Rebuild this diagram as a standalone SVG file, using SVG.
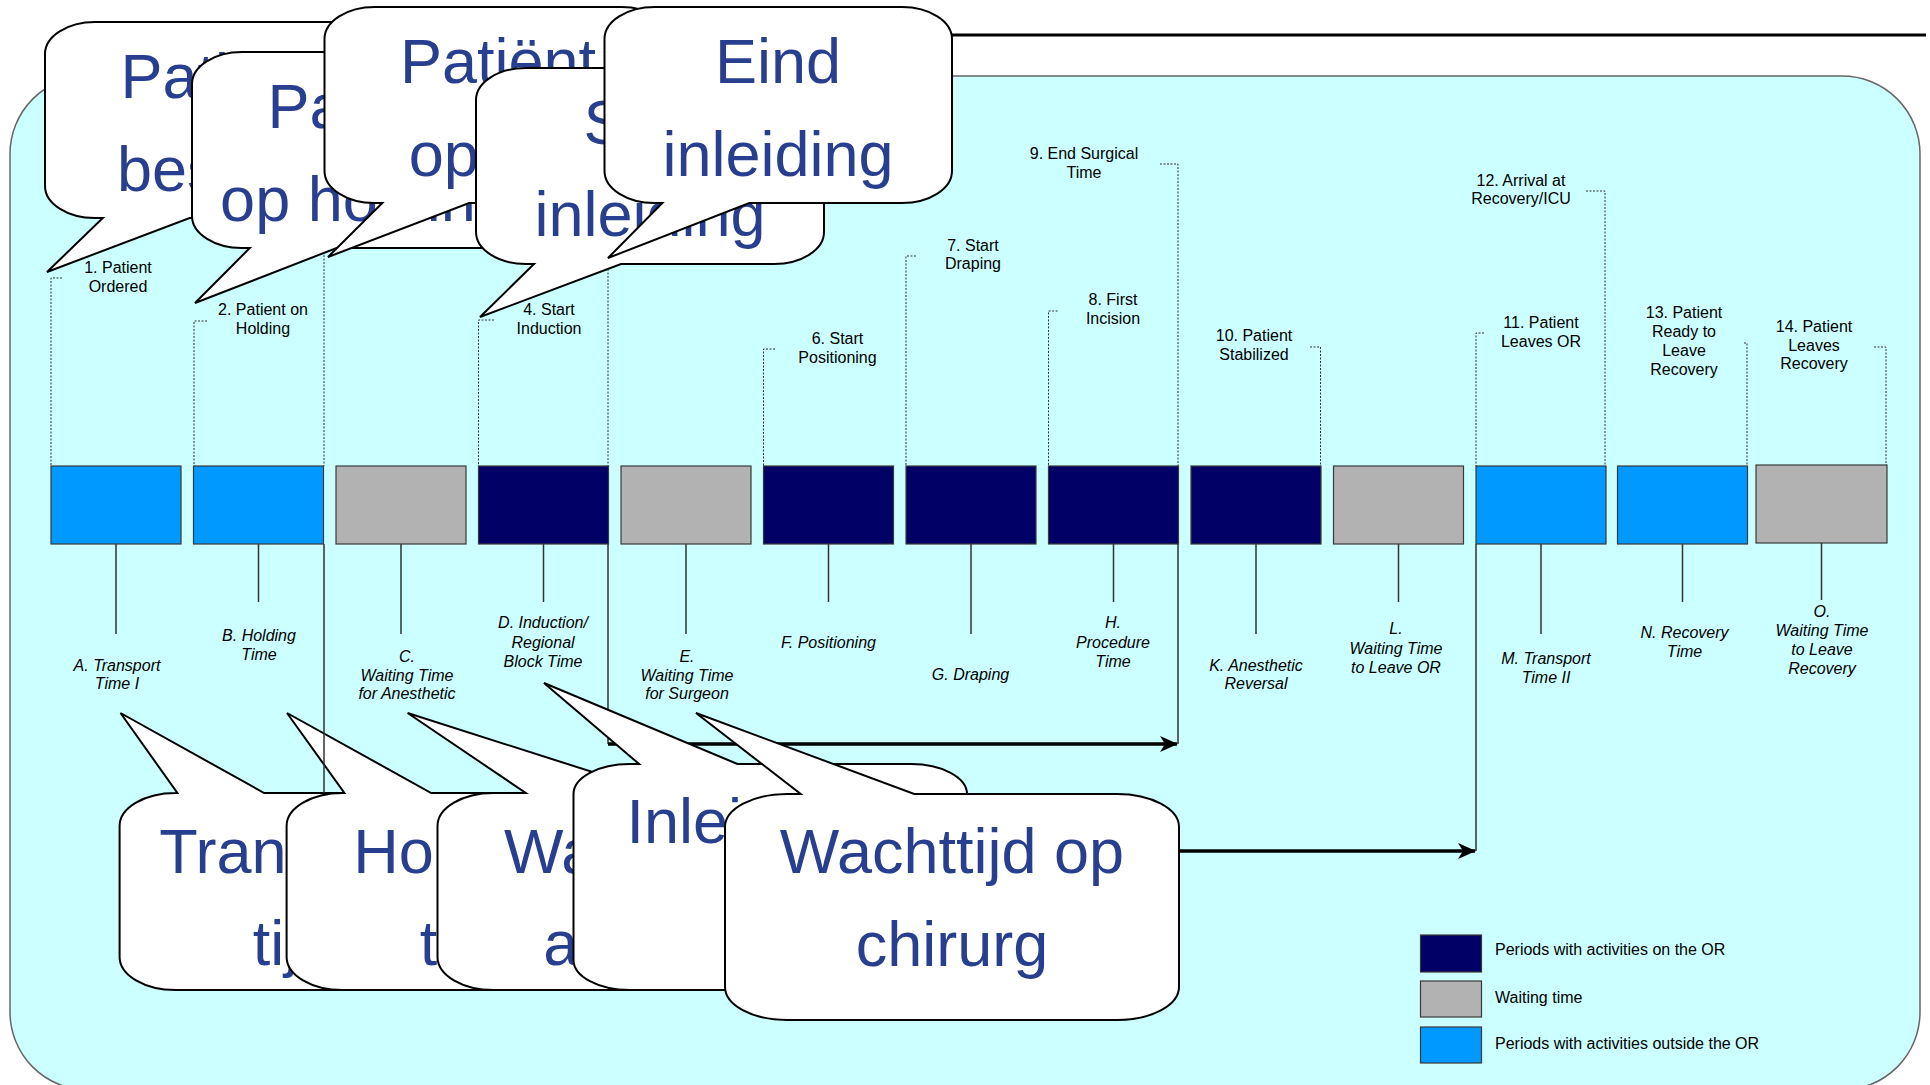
<svg xmlns="http://www.w3.org/2000/svg" width="1930" height="1085" viewBox="0 0 1930 1085">
<defs>
<style>
.lbl{font-family:"Liberation Sans",Arial,sans-serif;font-size:16px;fill:#000;text-anchor:middle}
.it{font-style:italic}
.leg{font-family:"Liberation Sans",Arial,sans-serif;font-size:16px;fill:#000}
.big{font-family:"Liberation Sans",Arial,sans-serif;font-size:63px;fill:#283E8E;text-anchor:middle}
.bub{fill:#fff;stroke:#000;stroke-width:2;stroke-linejoin:miter}
.dot{stroke:#333;stroke-width:1;stroke-dasharray:2 1.5;fill:none}
.drop{stroke:#333;stroke-width:1.5;fill:none}
.thick{stroke:#000;stroke-width:3.5;fill:none}
.box{stroke:#3a3a3a;stroke-width:1.2}
.navy{fill:#000066}.gray{fill:#B2B2B2}.blue{fill:#0099FF}
</style>
<marker id="arr" markerUnits="userSpaceOnUse" markerWidth="18" markerHeight="16" viewBox="0 0 18 16" refX="17" refY="8" orient="auto"><path d="M0,0 L18,8 L0,16 L5,8 Z" fill="#000"/></marker>
</defs>
<rect width="1930" height="1085" fill="#fff"/>
<line x1="400" y1="35" x2="1926" y2="35" stroke="#000" stroke-width="3"/>
<rect id="panel" x="10" y="76" width="1910" height="1014" rx="78" ry="78" fill="#CCFFFF" stroke="#666" stroke-width="1.5"/>

<g id="bubble-patient-besteld">
<path class="bub" d="M95,22 H342 A50,32 0 0 1 392,54 V186 A50,32 0 0 1 342,218 H189.6 L47,272 L102.8,218 H95 A50,32 0 0 1 45,186 V54 A50,32 0 0 1 95,22 Z"/>
<text class="big" x="218.5" y="97.5">Patiënt</text><text class="big" x="218.5" y="190.5">besteld</text>
</g>
<g id="bubble-patient-op-holding">
<path class="bub" d="M242,52 H489 A50,32 0 0 1 539,84 V216 A50,32 0 0 1 489,248 H336.6 L195,303 L249.8,248 H242 A50,32 0 0 1 192,216 V84 A50,32 0 0 1 242,52 Z"/>
<text class="big" x="365.5" y="127.5">Patiënt</text><text class="big" x="365.5" y="220.5">op holding</text>
</g>
<g id="bubble-patient-op-ok">
<path class="bub" d="M374.5,7 H621.5 A50,32 0 0 1 671.5,39 V171 A50,32 0 0 1 621.5,203 H469.1 L328,257 L382.3,203 H374.5 A50,32 0 0 1 324.5,171 V39 A50,32 0 0 1 374.5,7 Z"/>
<text class="big" x="498" y="82.5">Patiënt</text><text class="big" x="498" y="175.5">op OK</text>
</g>
<g id="bubble-start-inleiding">
<path class="bub" d="M526,68 H774 A50,32 0 0 1 824,100 V232 A50,32 0 0 1 774,264 H621 L480,317 L534,264 H526 A50,32 0 0 1 476,232 V100 A50,32 0 0 1 526,68 Z"/>
<text class="big" x="650" y="143.5">Start</text><text class="big" x="650" y="236">inleiding</text>
</g>
<g id="bubble-eind-inleiding">
<path class="bub" d="M654.5,7 H902 A50,32 0 0 1 952,39 V171 A50,32 0 0 1 902,203 H749.3 L608,258 L662.4,203 H654.5 A50,32 0 0 1 604.5,171 V39 A50,32 0 0 1 654.5,7 Z"/>
<text class="big" x="778" y="83">Eind</text><text class="big" x="778" y="175.5">inleiding</text>
</g>

<g id="period-A"><rect class="box blue" x="51" y="466" width="130" height="78"/><text class="lbl it" x="117"><tspan x="117" y="671">A. Transport</tspan><tspan x="117" y="689">Time I</tspan></text></g>
<g id="period-B"><rect class="box blue" x="193.5" y="466" width="130" height="78"/><text class="lbl it"><tspan x="259" y="641">B. Holding</tspan><tspan x="259" y="660">Time</tspan></text></g>
<g id="period-C"><rect class="box gray" x="336" y="466" width="130" height="78"/><text class="lbl it"><tspan x="407" y="662">C.</tspan><tspan x="407" y="681">Waiting Time</tspan><tspan x="407" y="699">for Anesthetic</tspan></text></g>
<g id="period-D"><rect class="box navy" x="478.5" y="466" width="130" height="78"/><text class="lbl it"><tspan x="543" y="628">D. Induction/</tspan><tspan x="543" y="648">Regional</tspan><tspan x="543" y="667">Block Time</tspan></text></g>
<g id="period-E"><rect class="box gray" x="621" y="466" width="130" height="78"/><text class="lbl it"><tspan x="687" y="662">E.</tspan><tspan x="687" y="681">Waiting Time</tspan><tspan x="687" y="699">for Surgeon</tspan></text></g>
<g id="period-F"><rect class="box navy" x="763.5" y="466" width="130" height="78"/><text class="lbl it" x="828.5" y="648">F. Positioning</text></g>
<g id="period-G"><rect class="box navy" x="906" y="466" width="130" height="78"/><text class="lbl it" x="970.5" y="680">G. Draping</text></g>
<g id="period-H"><rect class="box navy" x="1048.5" y="466" width="130" height="78"/><text class="lbl it"><tspan x="1113" y="628">H.</tspan><tspan x="1113" y="648">Procedure</tspan><tspan x="1113" y="667">Time</tspan></text></g>
<g id="period-K"><rect class="box navy" x="1191" y="466" width="130" height="78"/><text class="lbl it"><tspan x="1256" y="671">K. Anesthetic</tspan><tspan x="1256" y="689">Reversal</tspan></text></g>
<g id="period-L"><rect class="box gray" x="1333.5" y="466" width="130" height="78"/><text class="lbl it"><tspan x="1396" y="634">L.</tspan><tspan x="1396" y="654">Waiting Time</tspan><tspan x="1396" y="673">to Leave OR</tspan></text></g>
<g id="period-M"><rect class="box blue" x="1476" y="466" width="130" height="78"/><text class="lbl it"><tspan x="1546" y="664">M. Transport</tspan><tspan x="1546" y="683">Time II</tspan></text></g>
<g id="period-N"><rect class="box blue" x="1617.5" y="466" width="130" height="78"/><text class="lbl it"><tspan x="1684.5" y="638">N. Recovery</tspan><tspan x="1684.5" y="657">Time</tspan></text></g>
<g id="period-O"><rect class="box gray" x="1756" y="465" width="131" height="78"/><text class="lbl it"><tspan x="1822" y="617">O.</tspan><tspan x="1822" y="636">Waiting Time</tspan><tspan x="1822" y="655">to Leave</tspan><tspan x="1822" y="674">Recovery</tspan></text></g>

<g id="event-1"><text class="lbl"><tspan x="118" y="273">1. Patient</tspan><tspan x="118" y="292">Ordered</tspan></text></g>
<g id="event-2"><text class="lbl"><tspan x="263" y="315">2. Patient on</tspan><tspan x="263" y="334">Holding</tspan></text></g>
<g id="event-4"><text class="lbl"><tspan x="549" y="315">4. Start</tspan><tspan x="549" y="334">Induction</tspan></text></g>
<g id="event-6"><text class="lbl"><tspan x="837.5" y="344">6. Start</tspan><tspan x="837.5" y="363">Positioning</tspan></text></g>
<g id="event-7"><text class="lbl"><tspan x="973" y="251">7. Start</tspan><tspan x="973" y="269">Draping</tspan></text></g>
<g id="event-8"><text class="lbl"><tspan x="1113" y="305">8. First</tspan><tspan x="1113" y="324">Incision</tspan></text></g>
<g id="event-9"><text class="lbl"><tspan x="1084" y="159">9. End Surgical</tspan><tspan x="1084" y="178">Time</tspan></text></g>
<g id="event-10"><text class="lbl"><tspan x="1254" y="341">10. Patient</tspan><tspan x="1254" y="360">Stabilized</tspan></text></g>
<g id="event-11"><text class="lbl"><tspan x="1541" y="328">11. Patient</tspan><tspan x="1541" y="347">Leaves OR</tspan></text></g>
<g id="event-12"><text class="lbl"><tspan x="1521" y="186">12. Arrival at</tspan><tspan x="1521" y="204">Recovery/ICU</tspan></text></g>
<g id="event-13"><text class="lbl"><tspan x="1684" y="318">13. Patient</tspan><tspan x="1684" y="337">Ready to</tspan><tspan x="1684" y="356">Leave</tspan><tspan x="1684" y="375">Recovery</tspan></text></g>
<g id="event-14"><text class="lbl"><tspan x="1814" y="332">14. Patient</tspan><tspan x="1814" y="351">Leaves</tspan><tspan x="1814" y="369">Recovery</tspan></text></g>

<g id="bubble-transport-tijd">
<path class="bub" d="M175.6,793 H177.4 L120.5,713 L264.2,793 H410.6 A56,33 0 0 1 466.6,826 V957 A56,33 0 0 1 410.6,990 H175.6 A56,33 0 0 1 119.6,957 V826 A56,33 0 0 1 175.6,793 Z"/>
<text class="big" x="293" y="873">Transport</text><text class="big" x="293" y="965">tijd</text>
</g>
<g id="bubble-holding-tijd">
<path class="bub" d="M342.6,793 H344.4 L287,713 L431.2,793 H577.6 A56,33 0 0 1 633.6,826 V957 A56,33 0 0 1 577.6,990 H342.6 A56,33 0 0 1 286.6,957 V826 A56,33 0 0 1 342.6,793 Z"/>
<text class="big" x="460" y="873">Holding</text><text class="big" x="460" y="965">tijd</text>
</g>

<g id="connectors">
<path class="dot" d="M62,278 H51 V466 M207,321 H194 V466 M324,255 V466 M494,320 H478.5 V466 M608,269 V466 M775,349 H763.5 V466 M916,256 H906 V466 M1057.6,311 H1048.5 V466 M1160,164 H1178 V466 M1310,347 H1320.5 V466 M1484,333 H1476 V466 M1586,191 H1605 V466 M1744,343 H1747 V466 M1874,347 H1886 V465"/>
<path class="drop" d="M116,544 V634 M258.5,544 V602 M401,544 V634 M543.5,544 V602 M686,544 V634 M828.5,544 V602 M971,544 V634 M1113.5,544 V602 M1256,544 V634 M1398.5,544 V602 M1541,544 V634 M1682.5,544 V602 M1821.5,543 V600"/>
<path class="drop" d="M324,544 V793 M608,544 V744 M1178,544 V744 M1476,544 V851"/>
<line class="thick" x1="608" y1="744" x2="1177" y2="744" marker-end="url(#arr)"/>
<line class="thick" x1="440" y1="851" x2="1475" y2="851" marker-end="url(#arr)"/>
</g>

<g id="bubble-wachttijd-anesthesist">
<path class="bub" d="M493.5,793 H525.8 L407.6,713 L658.3,793 H911.5 A56,33 0 0 1 967.5,826 V957 A56,33 0 0 1 911.5,990 H493.5 A56,33 0 0 1 437.5,957 V826 A56,33 0 0 1 493.5,793 Z"/>
<text class="big" x="702.5" y="873">Wachttijd voor</text><text class="big" x="702.5" y="965">anesthesist</text>
</g>
<g id="bubble-inleidingstijd">
<path class="bub" d="M629.5,764 H639.1 L544,683 L737.4,764 H911 A56,30 0 0 1 967,794 V960 A56,30 0 0 1 911,990 H629.5 A56,30 0 0 1 573.5,960 V794 A56,30 0 0 1 629.5,764 Z"/>
<text class="big" x="770" y="843">Inleidings-</text><text class="big" x="770" y="935">tijd</text>
</g>
<g id="bubble-wachttijd-chirurg">
<path class="bub" d="M787,794 H800.7 L696,713 L914.2,794 H1117 A62,33 0 0 1 1179,827 V987 A62,33 0 0 1 1117,1020 H787 A62,33 0 0 1 725,987 V827 A62,33 0 0 1 787,794 Z"/>
<text class="big" x="952" y="873">Wachttijd op</text><text class="big" x="952" y="966">chirurg</text>
</g>

<g id="legend">
<rect class="box navy" x="1420.5" y="935" width="61" height="37"/>
<text class="leg" x="1495" y="955">Periods with activities on the OR</text>
<rect class="box gray" x="1420.5" y="981" width="61" height="36"/>
<text class="leg" x="1495" y="1003">Waiting time</text>
<rect class="box blue" x="1420.5" y="1027" width="61" height="36"/>
<text class="leg" x="1495" y="1049">Periods with activities outside the OR</text>
</g>
</svg>
